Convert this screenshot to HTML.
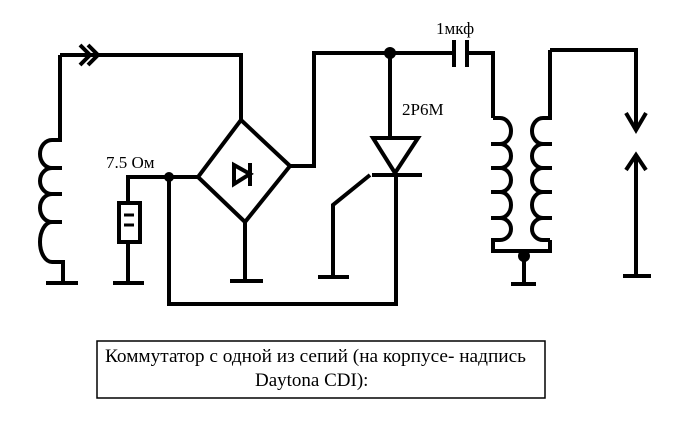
<!DOCTYPE html>
<html><head><meta charset="utf-8"><style>
html,body{margin:0;padding:0;background:#fff;width:682px;height:431px;overflow:hidden}
svg{display:block}
text{font-family:"Liberation Serif",serif;fill:#000}
</style></head><body>
<svg width="682" height="431" viewBox="0 0 682 431">
<g fill="none" stroke="#000" stroke-width="4" stroke-linejoin="miter">
<!-- left coil & top wire -->
<path d="M60,55 V140 H52 A12,14 0 0 0 52,168 H62 M52,168 A12,13 0 0 0 52,194 H62 M52,194 A12,14 0 0 0 52,222 H62 M52,222 A12,20 0 0 0 52,262 H63 V283"/>
<line x1="46" y1="283" x2="78" y2="283"/>
<polyline points="60,55 241,55 241,120"/>
<polyline points="80,45 90,55 80,65"/>
<polyline points="88,45 98,55 88,65"/>
<!-- bridge -->
<polygon points="241,120 290,166 245,222 198,177"/>
<polygon points="234,165 250,174 234,184"/>
<line x1="250" y1="163" x2="250" y2="186"/>
<line x1="245" y1="222" x2="245" y2="281"/>
<line x1="230" y1="281" x2="263" y2="281"/>
<polyline points="290,166 314,166 314,53 454,53"/>
<!-- junction & resistor -->
<line x1="169" y1="177" x2="198" y2="177"/>
<polyline points="169,177 128,177 128,203"/>
<rect x="119" y="203" width="21" height="39"/>
<line x1="124" y1="215" x2="134" y2="215" stroke-width="3"/>
<line x1="124" y1="225" x2="134" y2="225" stroke-width="3"/>
<line x1="128" y1="242" x2="128" y2="283"/>
<line x1="113" y1="283" x2="144" y2="283"/>
<polyline points="169,177 169,304 396,304 396,175"/>
<!-- thyristor -->
<line x1="390" y1="53" x2="390" y2="138"/>
<polygon points="373,138 418,138 395,173"/>
<line x1="372" y1="175" x2="422" y2="175"/>
<polyline points="370,175 333,205 333,277"/>
<line x1="318" y1="277" x2="349" y2="277"/>
<!-- capacitor -->
<line x1="454" y1="40" x2="454" y2="67"/>
<line x1="467" y1="40" x2="467" y2="67"/>
<polyline points="467,53 493,53 493,118"/>
<!-- transformer left (bulges right) -->
<path d="M493,118 H500 A11,13 0 0 1 500,144 H491 M500,144 A11,12 0 0 1 500,168 H491 M500,168 A11,12 0 0 1 500,192 H491 M500,192 A11,13 0 0 1 500,218 H491 M500,218 A11,11 0 0 1 500,240 H493 V251 H550 V240"/>
<!-- transformer right (bulges left) -->
<path d="M550,50 V118 H543 A11,13 0 0 0 543,144 H552 M543,144 A11,12 0 0 0 543,168 H552 M543,168 A11,12 0 0 0 543,192 H552 M543,192 A11,13 0 0 0 543,218 H552 M543,218 A11,11 0 0 0 543,240 H550"/>
<line x1="524" y1="255" x2="524" y2="284"/>
<line x1="511" y1="284" x2="536" y2="284"/>
<!-- spark gap -->
<polyline points="550,50 636,50 636,130"/>
<polyline points="626,113 636,130 646,113"/>
<line x1="636" y1="155" x2="636" y2="276"/>
<polyline points="626,170 636,155 646,170"/>
<line x1="623" y1="276" x2="651" y2="276"/>
</g>
<circle cx="169" cy="177" r="5"/>
<circle cx="390" cy="53" r="6"/>
<circle cx="524" cy="256" r="6"/>
<text x="106" y="168" font-size="17">7.5 Ом</text>
<text x="402" y="115" font-size="17">2P6M</text>
<text x="436" y="34" font-size="17">1мкф</text>
<rect x="97" y="341" width="448" height="57" fill="none" stroke="#000" stroke-width="1.5"/>
<text x="105" y="362" font-size="19" textLength="421" lengthAdjust="spacingAndGlyphs">Коммутатор с одной из сепий (на корпусе- надпись</text>
<text x="255" y="386" font-size="19">Daytona CDI):</text>
</svg>
</body></html>
